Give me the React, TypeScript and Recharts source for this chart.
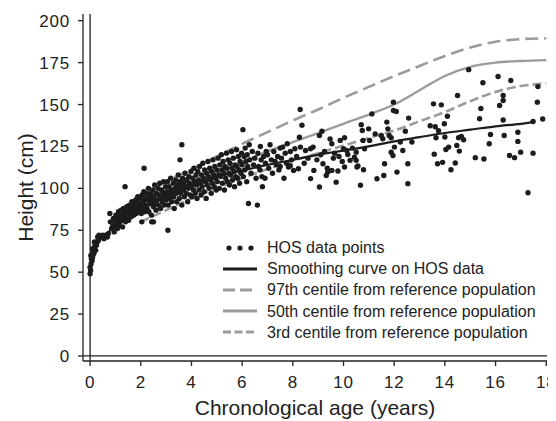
import React from "react";
import {
  ComposedChart,
  Scatter,
  Line,
  XAxis,
  YAxis,
  ReferenceLine,
  Legend,
} from "recharts";

const FONT = '"Liberation Sans", Arial, Helvetica, sans-serif';
const INK = "#222";
const GREY = "#9b9b9b";

const xTicks = [0, 2, 4, 6, 8, 10, 12, 14, 16, 18];
const yTicks = [0, 25, 50, 75, 100, 125, 150, 175, 200];

const legendLabels = [
  "HOS data points",
  "Smoothing curve on HOS data",
  "97th centile from reference population",
  "50th centile from reference population",
  "3rd centile from reference population",
];

// HOS data points: [age (years), height (cm)]
const hosPoints: [number, number][] = [
  [0.0, 49], [0.02, 51], [0.0, 53], [0.04, 55], [0.05, 58], [0.03, 60], [0.08, 57], [0.1, 59],
  [0.12, 62], [0.1, 64], [0.15, 61], [0.18, 65], [0.2, 67], [0.17, 68], [0.22, 63], [0.25, 66],
  [0.28, 68], [0.3, 71], [0.33, 69], [0.35, 72],
  [0.45, 71], [0.5, 72], [0.55, 70], [0.62, 72], [0.68, 71], [0.72, 73], [0.78, 85], [0.8, 80],
  [0.85, 76], [0.9, 78], [0.92, 82], [0.95, 74], [1.0, 77], [0.98, 81],
  [1.02, 84], [1.05, 79], [1.08, 76], [1.1, 82], [1.12, 86], [1.15, 78], [1.18, 80], [1.2, 84],
  [1.22, 87], [1.25, 81], [1.28, 77], [1.3, 83], [1.32, 88], [1.35, 85], [1.38, 101], [1.4, 80],
  [1.42, 86], [1.45, 89], [1.48, 83], [1.5, 87], [1.52, 81], [1.55, 90], [1.58, 85], [1.6, 88],
  [1.62, 83], [1.65, 92], [1.68, 86], [1.7, 89], [1.72, 84], [1.75, 91], [1.78, 87], [1.8, 93],
  [1.82, 85], [1.85, 89], [1.88, 95], [1.9, 86], [1.92, 91], [1.95, 88], [1.98, 94],
  [2.0, 90], [2.02, 85], [2.04, 80], [2.05, 96], [2.08, 88], [2.1, 92], [2.12, 98], [2.13, 112],
  [2.15, 86], [2.18, 94], [2.2, 90], [2.22, 97], [2.25, 88], [2.28, 93], [2.3, 100], [2.32, 86],
  [2.35, 95], [2.38, 91], [2.4, 97], [2.42, 84], [2.43, 80], [2.45, 93], [2.48, 99], [2.5, 89],
  [2.5, 80], [2.52, 95], [2.55, 102], [2.58, 91], [2.6, 87], [2.62, 97], [2.65, 93], [2.68, 100],
  [2.7, 90], [2.72, 96], [2.75, 103], [2.78, 88], [2.8, 94], [2.82, 99], [2.85, 92], [2.88, 97],
  [2.9, 104], [2.92, 90], [2.95, 95], [2.98, 101],
  [3.0, 93], [3.02, 98], [3.05, 104], [3.07, 75], [3.08, 90], [3.1, 96], [3.12, 101], [3.15, 94],
  [3.18, 106], [3.2, 99], [3.22, 92], [3.25, 97], [3.28, 103], [3.3, 95], [3.32, 88], [3.35, 100],
  [3.38, 105], [3.4, 97], [3.42, 92], [3.45, 102], [3.48, 108], [3.5, 99], [3.52, 94], [3.55, 117],
  [3.55, 104], [3.58, 97], [3.6, 101], [3.62, 126], [3.62, 90], [3.65, 106], [3.68, 99], [3.7, 103],
  [3.72, 95], [3.75, 109], [3.78, 101], [3.8, 97], [3.82, 105], [3.85, 92], [3.88, 100], [3.9, 107],
  [3.92, 103], [3.95, 96], [3.98, 110],
  [4.0, 101], [4.02, 95], [4.05, 106], [4.08, 99], [4.1, 112], [4.12, 104], [4.15, 97], [4.18, 108],
  [4.2, 102], [4.22, 94], [4.25, 110], [4.28, 105], [4.3, 99], [4.32, 113], [4.35, 103], [4.38, 96],
  [4.4, 108], [4.42, 101], [4.45, 115], [4.48, 106], [4.5, 98], [4.52, 111], [4.55, 104], [4.58, 94],
  [4.6, 109], [4.62, 102], [4.65, 116], [4.68, 107], [4.7, 100], [4.72, 112], [4.75, 105], [4.78, 97],
  [4.8, 110], [4.82, 103], [4.85, 117], [4.88, 108], [4.9, 101], [4.92, 113], [4.95, 106], [4.98, 99],
  [5.0, 111], [5.02, 104], [5.05, 118], [5.08, 108], [5.1, 100], [5.12, 114], [5.15, 107], [5.18, 120],
  [5.2, 111], [5.22, 103], [5.25, 116], [5.28, 109], [5.3, 99], [5.32, 113], [5.35, 106], [5.38, 121],
  [5.4, 112], [5.42, 104], [5.45, 117], [5.48, 109], [5.5, 102], [5.52, 115], [5.55, 108], [5.58, 122],
  [5.6, 112], [5.62, 105], [5.65, 118], [5.68, 110], [5.7, 101], [5.72, 114], [5.75, 107], [5.78, 123],
  [5.8, 113], [5.82, 106], [5.85, 119], [5.88, 111], [5.9, 103], [5.92, 116], [5.95, 109], [5.98, 121],
  [6.0, 114], [6.03, 135], [6.05, 107], [6.08, 119], [6.1, 111], [6.12, 124], [6.15, 116], [6.18, 104],
  [6.2, 120], [6.25, 91], [6.22, 113], [6.28, 126], [6.3, 117], [6.35, 109], [6.4, 122], [6.45, 114],
  [6.5, 118], [6.55, 106], [6.6, 90], [6.62, 121], [6.65, 113], [6.7, 111], [6.72, 125], [6.75, 117],
  [6.78, 107], [6.8, 101], [6.85, 119], [6.9, 106], [6.92, 115], [6.95, 122],
  [7.0, 120], [7.05, 112], [7.1, 126], [7.15, 117], [7.2, 109], [7.25, 122], [7.3, 116], [7.35, 114],
  [7.4, 119], [7.45, 111], [7.5, 124], [7.5, 113], [7.55, 118], [7.6, 124.6], [7.65, 106], [7.7, 121],
  [7.75, 115], [7.78, 126.6], [7.83, 112.7], [7.9, 122], [7.9, 113.5], [7.95, 117], [8.03, 110.7],
  [8.08, 123.6], [8.15, 119], [8.22, 111.7], [8.26, 130.5], [8.29, 147], [8.36, 137.7], [8.3, 124.6],
  [8.45, 115], [8.5, 122.6], [8.6, 118], [8.7, 123.6], [8.7, 105.8], [8.8, 124.6], [8.83, 110.7],
  [8.95, 117],
  [9.05, 100.8], [9.05, 131.5], [9.15, 134.1], [9.1, 120], [9.19, 114.7], [9.25, 122], [9.36, 112],
  [9.38, 109.7], [9.32, 107.7], [9.47, 129.5], [9.54, 126.6], [9.54, 110.7], [9.6, 118], [9.65, 121],
  [9.71, 103.7], [9.78, 110.3], [9.82, 119], [9.87, 128.6], [9.95, 116], [10.0, 123.6], [10.04, 130.2],
  [10.04, 112.7], [10.13, 122.6], [10.17, 120.2], [10.26, 116.7], [10.35, 124], [10.43, 118.6],
  [10.5, 121.6], [10.5, 116.7], [10.53, 112.7], [10.57, 113.3], [10.67, 101.8], [10.7, 138],
  [10.74, 134.5], [10.77, 128.6], [10.79, 111.1], [10.83, 123.6], [10.99, 135.5], [11.03, 128.6],
  [11.12, 144.4], [11.25, 132.5], [11.32, 105.7], [11.49, 131.5], [11.55, 129.6], [11.59, 107.7],
  [11.62, 114.7], [11.71, 139.5], [11.75, 135.5], [11.8, 131.5], [11.88, 130.2], [11.88, 121.6],
  [11.95, 119.6], [11.97, 151.4], [11.97, 146.4], [12.01, 124.6], [12.08, 145.8], [12.11, 109.7],
  [12.24, 127.6], [12.34, 122.6], [12.44, 134.1], [12.54, 114.7], [12.54, 102.8], [12.57, 141.9],
  [12.7, 127.6],
  [13.42, 137.3], [13.55, 150.4], [13.58, 120.4], [13.62, 136.7], [13.65, 130.2], [13.71, 114.7],
  [13.75, 134.4], [13.86, 149.8], [13.91, 115.5], [13.98, 138.5], [14.0, 130.6], [14.04, 123.2],
  [14.1, 143], [14.15, 124.6], [14.24, 111.1], [14.41, 115.1], [14.47, 125.6], [14.5, 155.4],
  [14.54, 130.2], [14.57, 122.2], [14.65, 131], [14.74, 129], [14.94, 170.8], [15.2, 118.3],
  [15.37, 141.5], [15.42, 147.6], [15.5, 163], [15.54, 117.5], [15.75, 126.6], [15.8, 132.1],
  [16.1, 166.7], [16.16, 149.4], [16.3, 155.4], [16.3, 152.4], [16.3, 140.8], [16.34, 131.5],
  [16.55, 119.6], [16.6, 164.3], [16.75, 118.3], [16.88, 133.5], [16.88, 128], [16.99, 121.6],
  [17.28, 97.4], [17.48, 139.9], [17.48, 121], [17.65, 151.4], [17.67, 160.7], [17.86, 141.4],
];

const smoothAges = [0, 0.1, 0.25, 0.5, 1, 1.5, 2, 3, 4, 5, 6, 7, 8, 9, 10, 11, 12, 13, 14, 15, 16, 17, 17.5];
const smoothHeights = [52, 58, 66, 71, 77, 83, 88, 96, 102, 107, 110.5, 114, 117, 120, 122.5, 125, 128, 130.5, 133, 135, 137, 138.5, 139.5];

const centileAges = [2, 3, 4, 5, 6, 7, 8, 9, 10, 11, 12, 13, 14, 15, 16, 17, 18];
const centile97 = [95, 104, 111.5, 119, 126.5, 133.5, 140.5, 147, 154, 160.5, 167, 173, 179, 184, 187.5, 189, 189.5];
const centile50 = [87, 95, 102, 109, 115.5, 122, 127.5, 133, 138.5, 144, 150, 158.5, 167, 172.5, 175, 176, 176.5];
const centile3 = [80, 87, 94, 100, 106, 111.5, 116.5, 121, 125.5, 130, 134.5, 140, 145.5, 152, 157.5, 161, 162.5];

const hosData = hosPoints.map(([age, h]) => ({ age, h }));
const toSeries = (ages: number[], hs: number[]) => ages.map((age, i) => ({ age, h: hs[i] }));
const smoothData = toSeries(smoothAges, smoothHeights);
const c97Data = toSeries(centileAges, centile97);
const c50Data = toSeries(centileAges, centile50);
const c3Data = toSeries(centileAges, centile3);

const Dot = (p: any) => <circle cx={p.cx} cy={p.cy} r={2.7} fill="#1c1c1c" />;

const YTitle = (p: any) => {
  const vb = p.viewBox || { x: 15, y: 6, width: 60, height: 347 };
  const cx = vb.x + 2;
  const cy = vb.y + vb.height / 2;
  return (
    <text
      x={cx}
      y={cy}
      transform={`rotate(-90, ${cx}, ${cy})`}
      textAnchor="middle"
      dominantBaseline="central"
      fill={INK}
      fontSize={21}
      fontFamily={FONT}
    >
      Height (cm)
    </text>
  );
};

const legendSymbols = [
  { kind: "dots" },
  { kind: "line", color: "#1c1c1c", dash: undefined },
  { kind: "line", color: GREY, dash: "12 5" },
  { kind: "line", color: GREY, dash: undefined },
  { kind: "line", color: GREY, dash: "8 3.5" },
];

const renderLegend = () => (
  <div style={{ fontFamily: FONT, fontSize: 16, color: INK }}>
    {legendLabels.map((label, i) => {
      const s = legendSymbols[i];
      return (
        <div key={label} style={{ display: "flex", alignItems: "center", height: 21.2 }}>
          <svg width={36} height={10} style={{ display: "block" }}>
            {s.kind === "dots" ? (
              [7, 18, 29].map((x) => <circle key={x} cx={x} cy={5} r={2.6} fill="#1c1c1c" />)
            ) : (
              <line x1={1} y1={5} x2={35} y2={5} stroke={s.color} strokeWidth={2.8} strokeDasharray={s.dash} />
            )}
          </svg>
          <span style={{ marginLeft: 9, whiteSpace: "nowrap", lineHeight: "21px" }}>{label}</span>
        </div>
      );
    })}
  </div>
);

const tickStyle = { fill: INK, fontSize: 17, fontFamily: FONT, letterSpacing: 0.8 };

export default function App() {
  return (
    <div style={{ position: "relative", width: 548, height: 413 }}>
      <ComposedChart width={548} height={413} margin={{ top: 6, right: 9, bottom: 5, left: 15 }}>
        <XAxis
          type="number"
          dataKey="age"
          domain={[-0.28, 18.03]}
          allowDataOverflow
          ticks={xTicks}
          tickSize={5}
          tickMargin={10}
          height={55}
          axisLine={{ stroke: INK, strokeWidth: 1.3 }}
          tickLine={{ stroke: INK, strokeWidth: 1.3 }}
          tick={tickStyle}
          label={{ value: "Chronological age (years)", position: "insideBottom", offset: 1, fill: INK, fontSize: 21, fontFamily: FONT }}
        />
        <YAxis
          type="number"
          dataKey="h"
          domain={[-3, 204]}
          allowDataOverflow
          ticks={yTicks}
          width={60}
          tickSize={5}
          tickMargin={8}
          axisLine={{ stroke: INK, strokeWidth: 1.3 }}
          tickLine={{ stroke: INK, strokeWidth: 1.3 }}
          tick={tickStyle}
          label={<YTitle />}
        />
        <ReferenceLine x={0} stroke={INK} strokeWidth={1.3} />
        <ReferenceLine y={0} stroke={INK} strokeWidth={1.3} />
        <Line data={c97Data} dataKey="h" type="monotone" stroke={GREY} strokeWidth={2.6} strokeDasharray="13 6" dot={false} activeDot={false} isAnimationActive={false} />
        <Line data={c50Data} dataKey="h" type="monotone" stroke={GREY} strokeWidth={2.4} dot={false} activeDot={false} isAnimationActive={false} />
        <Line data={c3Data} dataKey="h" type="monotone" stroke={GREY} strokeWidth={2.6} strokeDasharray="9 4" dot={false} activeDot={false} isAnimationActive={false} />
        <Scatter data={hosData} shape={Dot} isAnimationActive={false} />
        <Line data={smoothData} dataKey="h" type="monotone" stroke="#1c1c1c" strokeWidth={2.2} dot={false} activeDot={false} isAnimationActive={false} />
        <Legend
          content={renderLegend}
          layout="vertical"
          align="center"
          verticalAlign="middle"
          wrapperStyle={{ left: 214, top: 229, width: 330 }}
        />
      </ComposedChart>
    </div>
  );
}
